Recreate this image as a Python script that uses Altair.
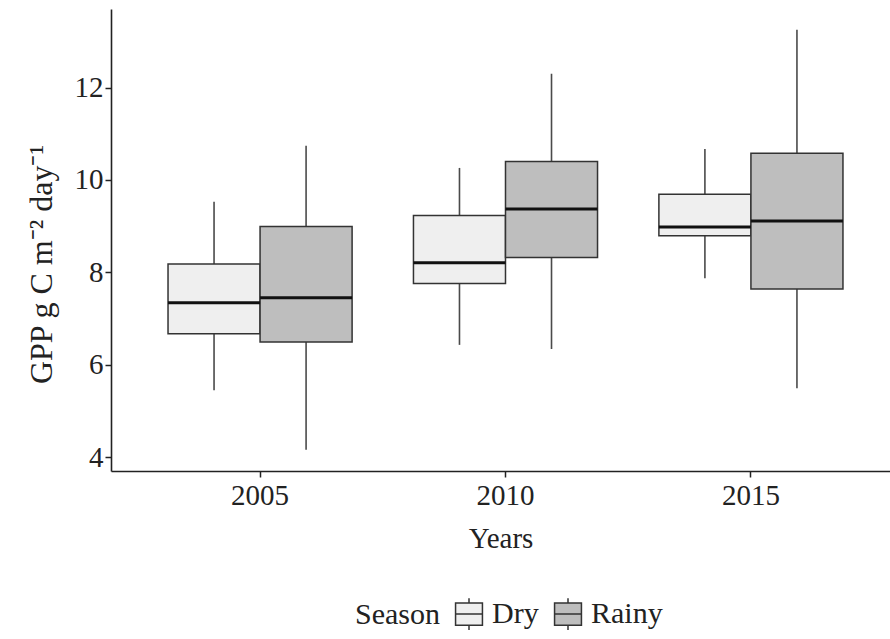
import altair as alt
import pandas as pd

years = ["2005", "2010", "2015"]
seasons = ["Dry", "Rainy"]

dry_lower = [5.45, 6.43, 7.87]
dry_q1 = [6.67, 7.76, 8.79]
dry_median = [7.34, 8.21, 8.98]
dry_q3 = [8.18, 9.23, 9.69]
dry_upper = [9.53, 10.26, 10.67]

rainy_lower = [4.16, 6.34, 5.49]
rainy_q1 = [6.49, 8.32, 7.64]
rainy_median = [7.45, 9.37, 9.11]
rainy_q3 = [8.99, 10.40, 10.58]
rainy_upper = [10.74, 12.30, 13.25]

y_ticks = [4, 6, 8, 10, 12]

rows = []
for season, lo, q1, md, q3, hi in [
    ("Dry", dry_lower, dry_q1, dry_median, dry_q3, dry_upper),
    ("Rainy", rainy_lower, rainy_q1, rainy_median, rainy_q3, rainy_upper),
]:
    for i, yr in enumerate(years):
        rows.append(dict(Year=yr, Season=season, lower=lo[i], q1=q1[i],
                         median=md[i], q3=q3[i], upper=hi[i]))
df = pd.DataFrame(rows)

FONT = "Liberation Serif"
INK = "#222222"

x_enc = alt.X("Year:N", title="Years", sort=years,
              scale=alt.Scale(paddingInner=0.25, paddingOuter=0.212, align=0.548),
              axis=alt.Axis(labelAngle=0, labelPadding=4, titlePadding=14))
xo_enc = alt.XOffset("Season:N", sort=seasons,
                     scale=alt.Scale(paddingInner=0, paddingOuter=0))
y_scale = alt.Scale(domain=[3.7, 13.7], nice=False, zero=False)

box_path = "M-0.85,-0.7H0.85V0.7H-0.85Z M-0.85,0H0.85 M0,-0.7V-1 M0,0.7V1"

base = alt.Chart(df)

whisker = base.mark_rule(color="#4a4a4a", strokeWidth=1.6).encode(
    x=x_enc, xOffset=xo_enc,
    y=alt.Y("lower:Q", scale=y_scale,
            title="GPP g C m⁻² day⁻¹",
            axis=alt.Axis(values=y_ticks, titlePadding=16, titleY=255,
                          titleFontSize=32)),
    y2="upper:Q",
)

box = base.mark_bar(stroke="#333333", strokeWidth=1.5, opacity=1).encode(
    x=x_enc, xOffset=xo_enc,
    y=alt.Y("q1:Q", scale=y_scale),
    y2="q3:Q",
    fill=alt.Fill("Season:N", sort=seasons,
                  scale=alt.Scale(domain=seasons, range=["#EFEFEF", "#BEBEBE"]),
                  legend=alt.Legend(orient="none", legendX=244, legendY=588,
                                    direction="horizontal", titleOrient="left",
                                    title="Season",
                                    symbolType=box_path, symbolSize=1000,
                                    symbolStrokeColor="#333333", symbolStrokeWidth=1.5,
                                    symbolOpacity=1,
                                    labelFont=FONT, labelFontSize=30, labelColor=INK,
                                    titleFont=FONT, titleFontSize=30, titleColor=INK,
                                    titleFontWeight="normal", titlePadding=12,
                                    columnPadding=12, labelOffset=6)),
)

median = base.mark_tick(color="#111111", thickness=3, size=92, opacity=1).encode(
    x=x_enc, xOffset=xo_enc,
    y=alt.Y("median:Q", scale=y_scale),
)

chart = alt.layer(whisker, box, median).properties(
    width=779, height=462,
    autosize=alt.AutoSizeParams(type="none"),
    padding={"left": 111, "top": 9, "right": 0, "bottom": 168},
    background="white",
).configure_view(stroke=None).configure_axis(
    grid=False,
    domainColor=INK, domainWidth=1.6,
    tickColor=INK, tickWidth=1.5, tickSize=6,
    labelFont=FONT, labelFontSize=29, labelColor=INK,
    titleFont=FONT, titleFontSize=29, titleColor=INK, titleFontWeight="normal",
)

chart.save("out.html", embed_options={"renderer": "svg", "actions": False})
